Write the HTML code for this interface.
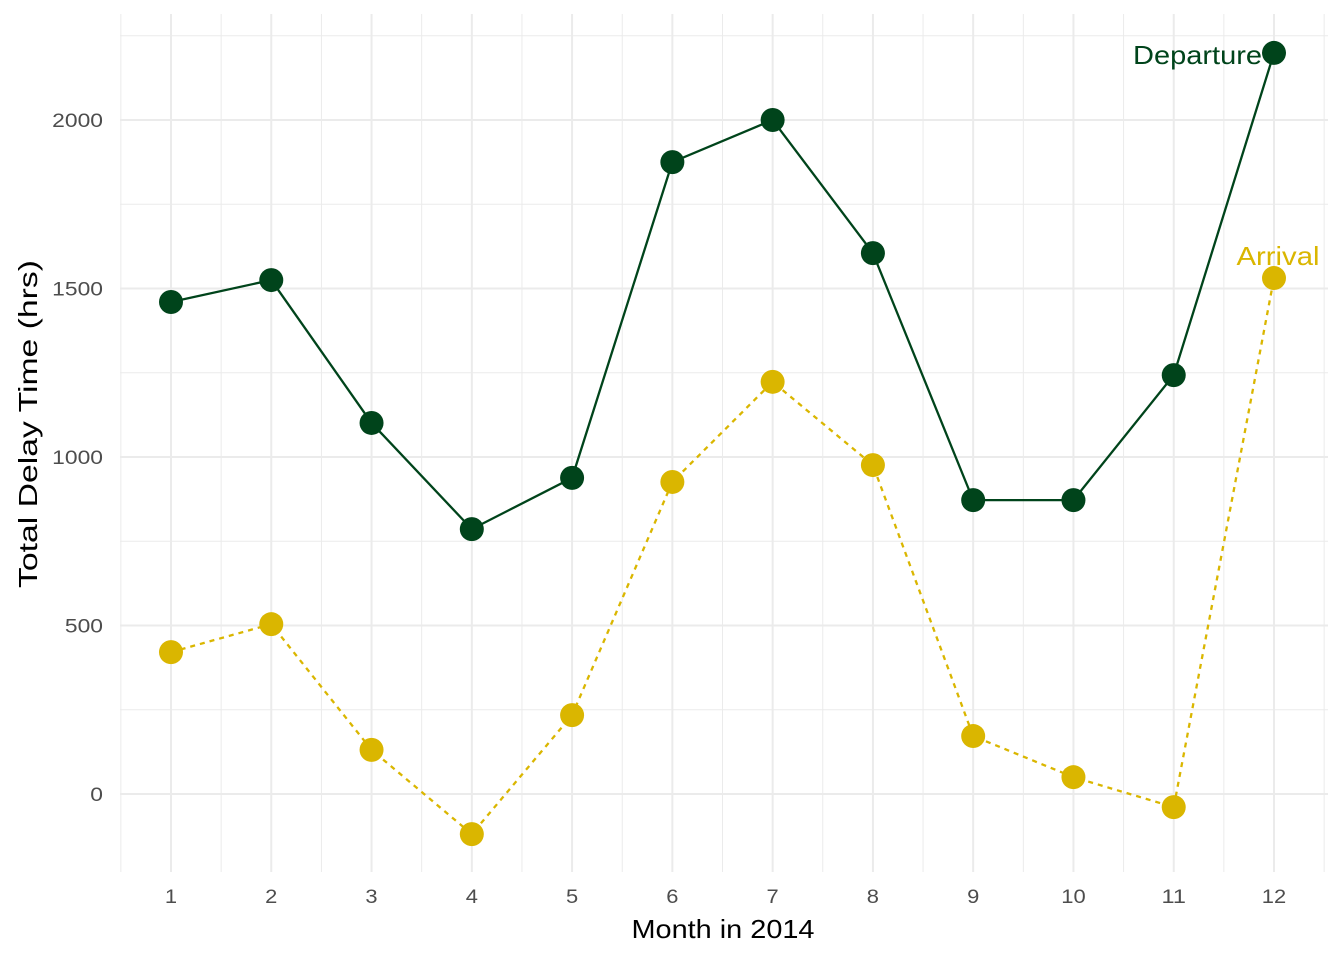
<!DOCTYPE html>
<html><head><meta charset="utf-8"><style>
body{margin:0;background:#fff;}
svg{display:block;font-family:"Liberation Sans",sans-serif;}
</style></head><body>
<svg id="chart" width="1344" height="960"></svg>
<script>
const months=[1,2,3,4,5,6,7,8,9,10,11,12];
const departure=[1460,1525,1101,786,938,1875,2000,1605,872,872,1243,2199];
const arrival=[421,504,131,-119,234,926,1223,976,172,50,-39,1531];
const yTicks=[0,500,1000,1500,2000];
const yMinor=[250,750,1250,1750,2250];
const NS='http://www.w3.org/2000/svg';
const svg=document.getElementById('chart');
const X=m=>171+(m-1)*(1274-171)/11;
const Y=v=>794-v*0.337;
function mk(t,a,p){const e=document.createElementNS(NS,t);for(const k in a)e.setAttribute(k,a[k]);(p||svg).appendChild(e);return e;}
const grid=mk('g',{});


yMinor.forEach(v=>mk('line',{x1:120,x2:1328,y1:Y(v),y2:Y(v),stroke:'#ebebeb','stroke-width':1},grid));
for(let m=0.5;m<=12.5;m+=1)mk('line',{x1:X(m),x2:X(m),y1:14,y2:872,stroke:'#ebebeb','stroke-width':1},grid);
yTicks.forEach(v=>{mk('line',{x1:120,x2:1328,y1:Y(v),y2:Y(v),stroke:'#ebebeb','stroke-width':2},grid);
 const s=String(v);
 const t=mk('text',{x:103,y:Y(v)+7,'text-anchor':'end','font-size':19,fill:'#4d4d4d',textLength:s.length*12.7,lengthAdjust:'spacingAndGlyphs'});t.textContent=s;
 
 });
months.forEach(m=>{mk('line',{x1:X(m),x2:X(m),y1:14,y2:872,stroke:'#ebebeb','stroke-width':2},grid);
 const s=String(m);
 const t=mk('text',{x:X(m),y:903,'text-anchor':'middle','font-size':19,fill:'#4d4d4d',textLength:s.length*12.2,lengthAdjust:'spacingAndGlyphs'});t.textContent=s;
 
 });
function series(vals,color,dash,name){
 const g=mk('g',{});
 
 
 mk('polyline',{points:vals.map((v,i)=>X(months[i])+','+Y(v)).join(' '),fill:'none',stroke:color,'stroke-width':2.3,'stroke-dasharray':dash||'none'},g);
 vals.forEach((v,i)=>{const c=mk('circle',{cx:X(months[i]),cy:Y(v),r:12,fill:color},g);
  
  });
}
series(departure,'#00441b',null,'departure');
series(arrival,'#dab600','5,5','arrival');
let t=mk('text',{x:1262,y:Y(departure[11])+11,'text-anchor':'end','font-size':26,fill:'#00441b',textLength:129,lengthAdjust:'spacingAndGlyphs'});t.textContent='Departure';


t=mk('text',{x:1278,y:Y(arrival[11])-13,'text-anchor':'middle','font-size':26,fill:'#dab600',textLength:83,lengthAdjust:'spacingAndGlyphs'});t.textContent='Arrival';


t=mk('text',{x:723,y:938,'text-anchor':'middle','font-size':26,fill:'#000',textLength:183,lengthAdjust:'spacingAndGlyphs'});t.textContent='Month in 2014';


t=mk('text',{x:0,y:0,'text-anchor':'middle','font-size':26,fill:'#000',textLength:328,lengthAdjust:'spacingAndGlyphs',transform:'translate(37,424) rotate(-90)'});t.textContent='Total Delay Time (hrs)';


</script>
</body></html>
